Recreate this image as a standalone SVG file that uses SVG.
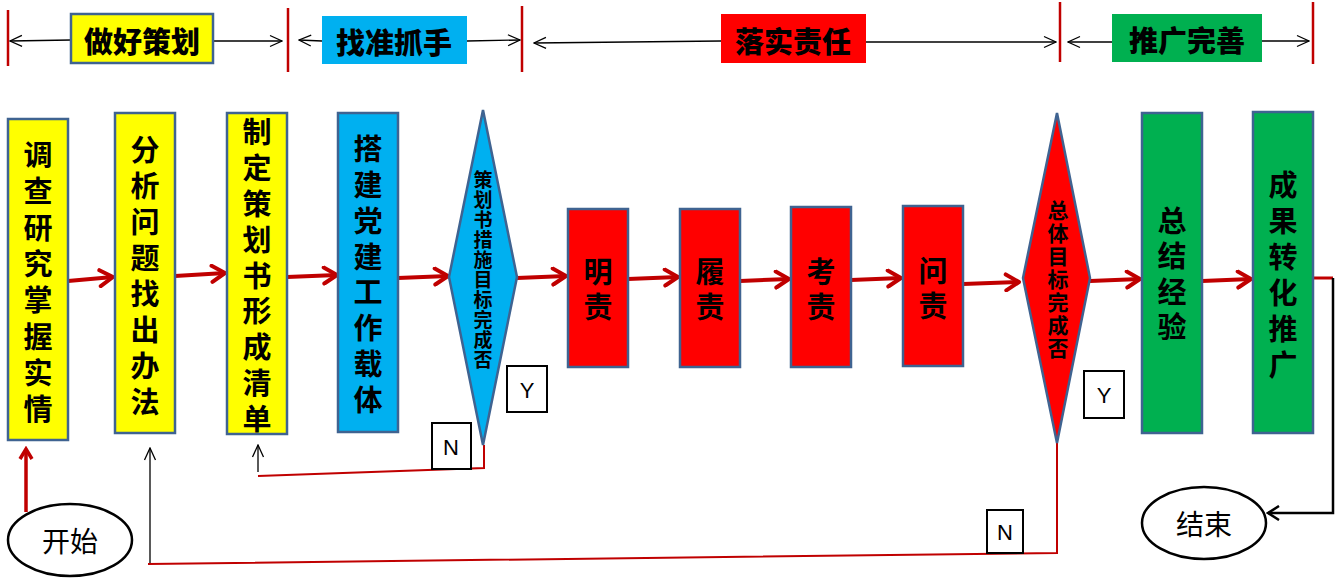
<svg xmlns="http://www.w3.org/2000/svg" width="1338" height="579" viewBox="0 0 1338 579">
<defs>
<style>
.box{stroke:#3F6391;stroke-width:2.5}
.vt{font-family:"Noto Sans CJK SC","Noto Sans CJK TC",sans-serif;font-weight:bold;font-size:29px;text-anchor:middle;dominant-baseline:central;fill:#000}
.d1t{font-family:"Noto Sans CJK SC",sans-serif;font-weight:bold;font-size:19px;text-anchor:middle;dominant-baseline:central;fill:#000}
.d2t{font-family:"Noto Sans CJK SC",sans-serif;font-weight:bold;font-size:21px;text-anchor:middle;dominant-baseline:central;fill:#000}
.hd{font-family:"Noto Sans CJK SC",sans-serif;font-weight:900;font-size:29px;text-anchor:middle;dominant-baseline:central;fill:#000}
.lb{font-family:"Liberation Sans",Arial,sans-serif;font-size:22px;text-anchor:middle;dominant-baseline:central;fill:#000}
.el{font-family:"Noto Sans CJK SC",sans-serif;font-size:28px;text-anchor:middle;dominant-baseline:central;fill:#000}
.sep{stroke:#C00000;stroke-width:2.5}
.thin{stroke:#000;stroke-width:1.3;fill:none;marker-end:url(#ta)}
.red{stroke:#C00000;stroke-width:4;fill:none;marker-end:url(#ra)}
.rl{stroke:#C00000;stroke-width:2;fill:none}
</style>
<marker id="ra" markerUnits="userSpaceOnUse" viewBox="0 0 20 20" markerWidth="20" markerHeight="20" refX="16" refY="10" orient="auto">
<path d="M3,2 L16,10 L3,18" fill="none" stroke="#C00000" stroke-width="4" stroke-linecap="round" stroke-linejoin="round"/>
</marker>
<marker id="ra2" markerUnits="userSpaceOnUse" viewBox="0 0 16 16" markerWidth="16" markerHeight="16" refX="13" refY="8" orient="auto">
<path d="M3,2 L13,8 L3,14" fill="none" stroke="#C00000" stroke-width="3.5"/>
</marker>
<marker id="ta" markerUnits="userSpaceOnUse" viewBox="0 0 14 14" markerWidth="14" markerHeight="14" refX="13" refY="7" orient="auto">
<path d="M1,1.5 L13,7 L1,12.5" fill="none" stroke="#000" stroke-width="1.3"/>
</marker>
<marker id="ba" markerUnits="userSpaceOnUse" viewBox="0 0 16 16" markerWidth="16" markerHeight="16" refX="14" refY="8" orient="auto">
<path d="M3,1 L14,8 L3,15" fill="none" stroke="#000" stroke-width="2.5"/>
</marker>
</defs>
<rect width="1338" height="579" fill="#fff"/>

<g id="phases">
<line class="sep" x1="8" y1="10" x2="8" y2="66"/>
<line class="sep" x1="288" y1="8" x2="288" y2="72"/>
<line class="sep" x1="522" y1="6" x2="522" y2="72"/>
<line class="sep" x1="1060" y1="2" x2="1060" y2="62"/>
<line class="sep" x1="1313" y1="2" x2="1313" y2="64"/>
<g id="phase1">
<line class="thin" x1="71" y1="40" x2="10" y2="41"/>
<line class="thin" x1="213" y1="41" x2="282" y2="41"/>
<rect x="71" y="14" width="142" height="49" fill="#FFFF00" class="box"/>
<text class="hd" x="142" y="40">做好策划</text>
</g>
<g id="phase2">
<line class="thin" x1="322" y1="41" x2="299" y2="40"/>
<line class="thin" x1="467" y1="41" x2="520" y2="40"/>
<rect x="322" y="16" width="145" height="48" fill="#00B0F0"/>
<text class="hd" x="394" y="41">找准抓手</text>
</g>
<g id="phase3">
<line class="thin" x1="721" y1="41" x2="534" y2="43"/>
<line class="thin" x1="866" y1="42" x2="1056" y2="42"/>
<rect x="721" y="14" width="145" height="49" fill="#FF0000"/>
<text class="hd" x="793" y="40">落实责任</text>
</g>
<g id="phase4">
<line class="thin" x1="1112" y1="42" x2="1068" y2="42"/>
<line class="thin" x1="1262" y1="41" x2="1309" y2="41"/>
<rect x="1112" y="14" width="150" height="48" fill="#00B050"/>
<text class="hd" x="1187" y="39">推广完善</text>
</g>
</g>

<g id="connectors">
<line class="red" x1="68" y1="281" x2="113" y2="277"/>
<line class="red" x1="175" y1="276" x2="225" y2="273"/>
<line class="red" x1="287" y1="277" x2="337" y2="275"/>
<line class="red" x1="398" y1="278" x2="448" y2="276"/>
<line class="red" x1="517" y1="278" x2="566" y2="276"/>
<line class="red" x1="628" y1="279" x2="678" y2="277"/>
<line class="red" x1="740" y1="281" x2="789" y2="279"/>
<line class="red" x1="851" y1="280" x2="901" y2="278"/>
<line class="red" x1="963" y1="284" x2="1019" y2="282"/>
<line class="red" x1="1090" y1="281" x2="1140" y2="279"/>
<line class="red" x1="1202" y1="281" x2="1251" y2="279"/>
<polyline fill="none" stroke="#C00000" stroke-width="3" points="1313,278 1333,278"/>
<polyline fill="none" stroke="#000" stroke-width="2.5" points="1333,278 1333,513 1268,513" marker-end="url(#ba)"/>
<line x1="26" y1="512" x2="26" y2="449" stroke="#C00000" stroke-width="3.5" marker-end="url(#ra2)"/>
<polyline class="rl" points="484,445 484,468 258,476"/>
<line class="thin" x1="258" y1="472" x2="258" y2="445"/>
<polyline class="rl" points="1057,443 1057,553 148,564"/>
<line class="thin" x1="150" y1="563" x2="150" y2="448"/>
</g>

<g id="n1">
<rect x="8" y="119" width="60" height="321" fill="#FFFF00" class="box"/>
<text class="vt"><tspan x="38" y="153">调</tspan><tspan x="38" y="189">查</tspan><tspan x="38" y="226">研</tspan><tspan x="38" y="262">究</tspan><tspan x="38" y="298">掌</tspan><tspan x="38" y="335">握</tspan><tspan x="38" y="371">实</tspan><tspan x="38" y="407">情</tspan></text>
</g>
<g id="n2">
<rect x="115" y="113" width="60" height="320" fill="#FFFF00" class="box"/>
<text class="vt"><tspan x="145" y="148">分</tspan><tspan x="145" y="184">析</tspan><tspan x="145" y="220">问</tspan><tspan x="145" y="256">题</tspan><tspan x="145" y="292">找</tspan><tspan x="145" y="328">出</tspan><tspan x="145" y="364">办</tspan><tspan x="145" y="400">法</tspan></text>
</g>
<g id="n3">
<rect x="227" y="113" width="60" height="321" fill="#FFFF00" class="box"/>
<text class="vt"><tspan x="257" y="130">制</tspan><tspan x="257" y="166">定</tspan><tspan x="257" y="202">策</tspan><tspan x="257" y="238">划</tspan><tspan x="257" y="274">书</tspan><tspan x="257" y="309">形</tspan><tspan x="257" y="345">成</tspan><tspan x="257" y="381">清</tspan><tspan x="257" y="417">单</tspan></text>
</g>
<g id="n4">
<rect x="338" y="113" width="60" height="319" fill="#00B0F0" class="box"/>
<text class="vt"><tspan x="368" y="147">搭</tspan><tspan x="368" y="183">建</tspan><tspan x="368" y="219">党</tspan><tspan x="368" y="255">建</tspan><tspan x="368" y="290">工</tspan><tspan x="368" y="326">作</tspan><tspan x="368" y="362">载</tspan><tspan x="368" y="398">体</tspan></text>
</g>
<g id="d1">
<polygon points="483,110 517,277 483,445 449,277" fill="#00B0F0" class="box"/>
<text class="d1t"><tspan x="483" y="178">策</tspan><tspan x="483" y="198">划</tspan><tspan x="483" y="218">书</tspan><tspan x="483" y="238">措</tspan><tspan x="483" y="258">施</tspan><tspan x="483" y="278">目</tspan><tspan x="483" y="298">标</tspan><tspan x="483" y="318">完</tspan><tspan x="483" y="338">成</tspan><tspan x="483" y="358">否</tspan></text>
</g>
<g id="y1">
<rect x="507" y="366" width="40" height="46" fill="#fff" stroke="#000" stroke-width="2"/>
<text class="lb" x="527" y="390">Y</text>
</g>
<g id="nlabel1">
<rect x="432" y="423" width="39" height="46" fill="#fff" stroke="#000" stroke-width="2"/>
<text class="lb" x="451" y="447">N</text>
</g>
<g id="n5">
<rect x="568" y="209" width="60" height="158" fill="#FF0000" class="box"/>
<text class="vt"><tspan x="598" y="270">明</tspan><tspan x="598" y="305">责</tspan></text>
</g>
<g id="n6">
<rect x="680" y="209" width="60" height="158" fill="#FF0000" class="box"/>
<text class="vt"><tspan x="710" y="270">履</tspan><tspan x="710" y="305">责</tspan></text>
</g>
<g id="n7">
<rect x="791" y="207" width="60" height="160" fill="#FF0000" class="box"/>
<text class="vt"><tspan x="821" y="270">考</tspan><tspan x="821" y="305">责</tspan></text>
</g>
<g id="n8">
<rect x="903" y="206" width="60" height="160" fill="#FF0000" class="box"/>
<text class="vt"><tspan x="933" y="269">问</tspan><tspan x="933" y="304">责</tspan></text>
</g>
<g id="d2">
<polygon points="1057,113 1090,278 1057,443 1023,278" fill="#FF0000" class="box"/>
<text class="d2t"><tspan x="1058" y="209">总</tspan><tspan x="1058" y="232">体</tspan><tspan x="1058" y="255">目</tspan><tspan x="1058" y="278">标</tspan><tspan x="1058" y="301">完</tspan><tspan x="1058" y="324">成</tspan><tspan x="1058" y="347">否</tspan></text>
</g>
<g id="y2">
<rect x="1084" y="371" width="40" height="47" fill="#fff" stroke="#000" stroke-width="2"/>
<text class="lb" x="1104" y="395">Y</text>
</g>
<g id="nlabel2">
<rect x="987" y="510" width="36" height="43" fill="#fff" stroke="#000" stroke-width="2"/>
<text class="lb" x="1005" y="532">N</text>
</g>
<g id="n9">
<rect x="1142" y="113" width="60" height="320" fill="#00B050" class="box"/>
<text class="vt"><tspan x="1172" y="219">总</tspan><tspan x="1172" y="254">结</tspan><tspan x="1172" y="290">经</tspan><tspan x="1172" y="325">验</tspan></text>
</g>
<g id="n10">
<rect x="1253" y="112" width="60" height="321" fill="#00B050" class="box"/>
<text class="vt"><tspan x="1283" y="183">成</tspan><tspan x="1283" y="219">果</tspan><tspan x="1283" y="255">转</tspan><tspan x="1283" y="291">化</tspan><tspan x="1283" y="327">推</tspan><tspan x="1283" y="363">广</tspan></text>
</g>
<g id="start">
<ellipse cx="70" cy="540" rx="62" ry="36" fill="#fff" stroke="#000" stroke-width="2.5"/>
<text class="el" x="70" y="540">开始</text>
</g>
<g id="end">
<ellipse cx="1204" cy="523" rx="62" ry="36" fill="#fff" stroke="#000" stroke-width="2.5"/>
<text class="el" x="1204" y="523">结束</text>
</g>
</svg>
